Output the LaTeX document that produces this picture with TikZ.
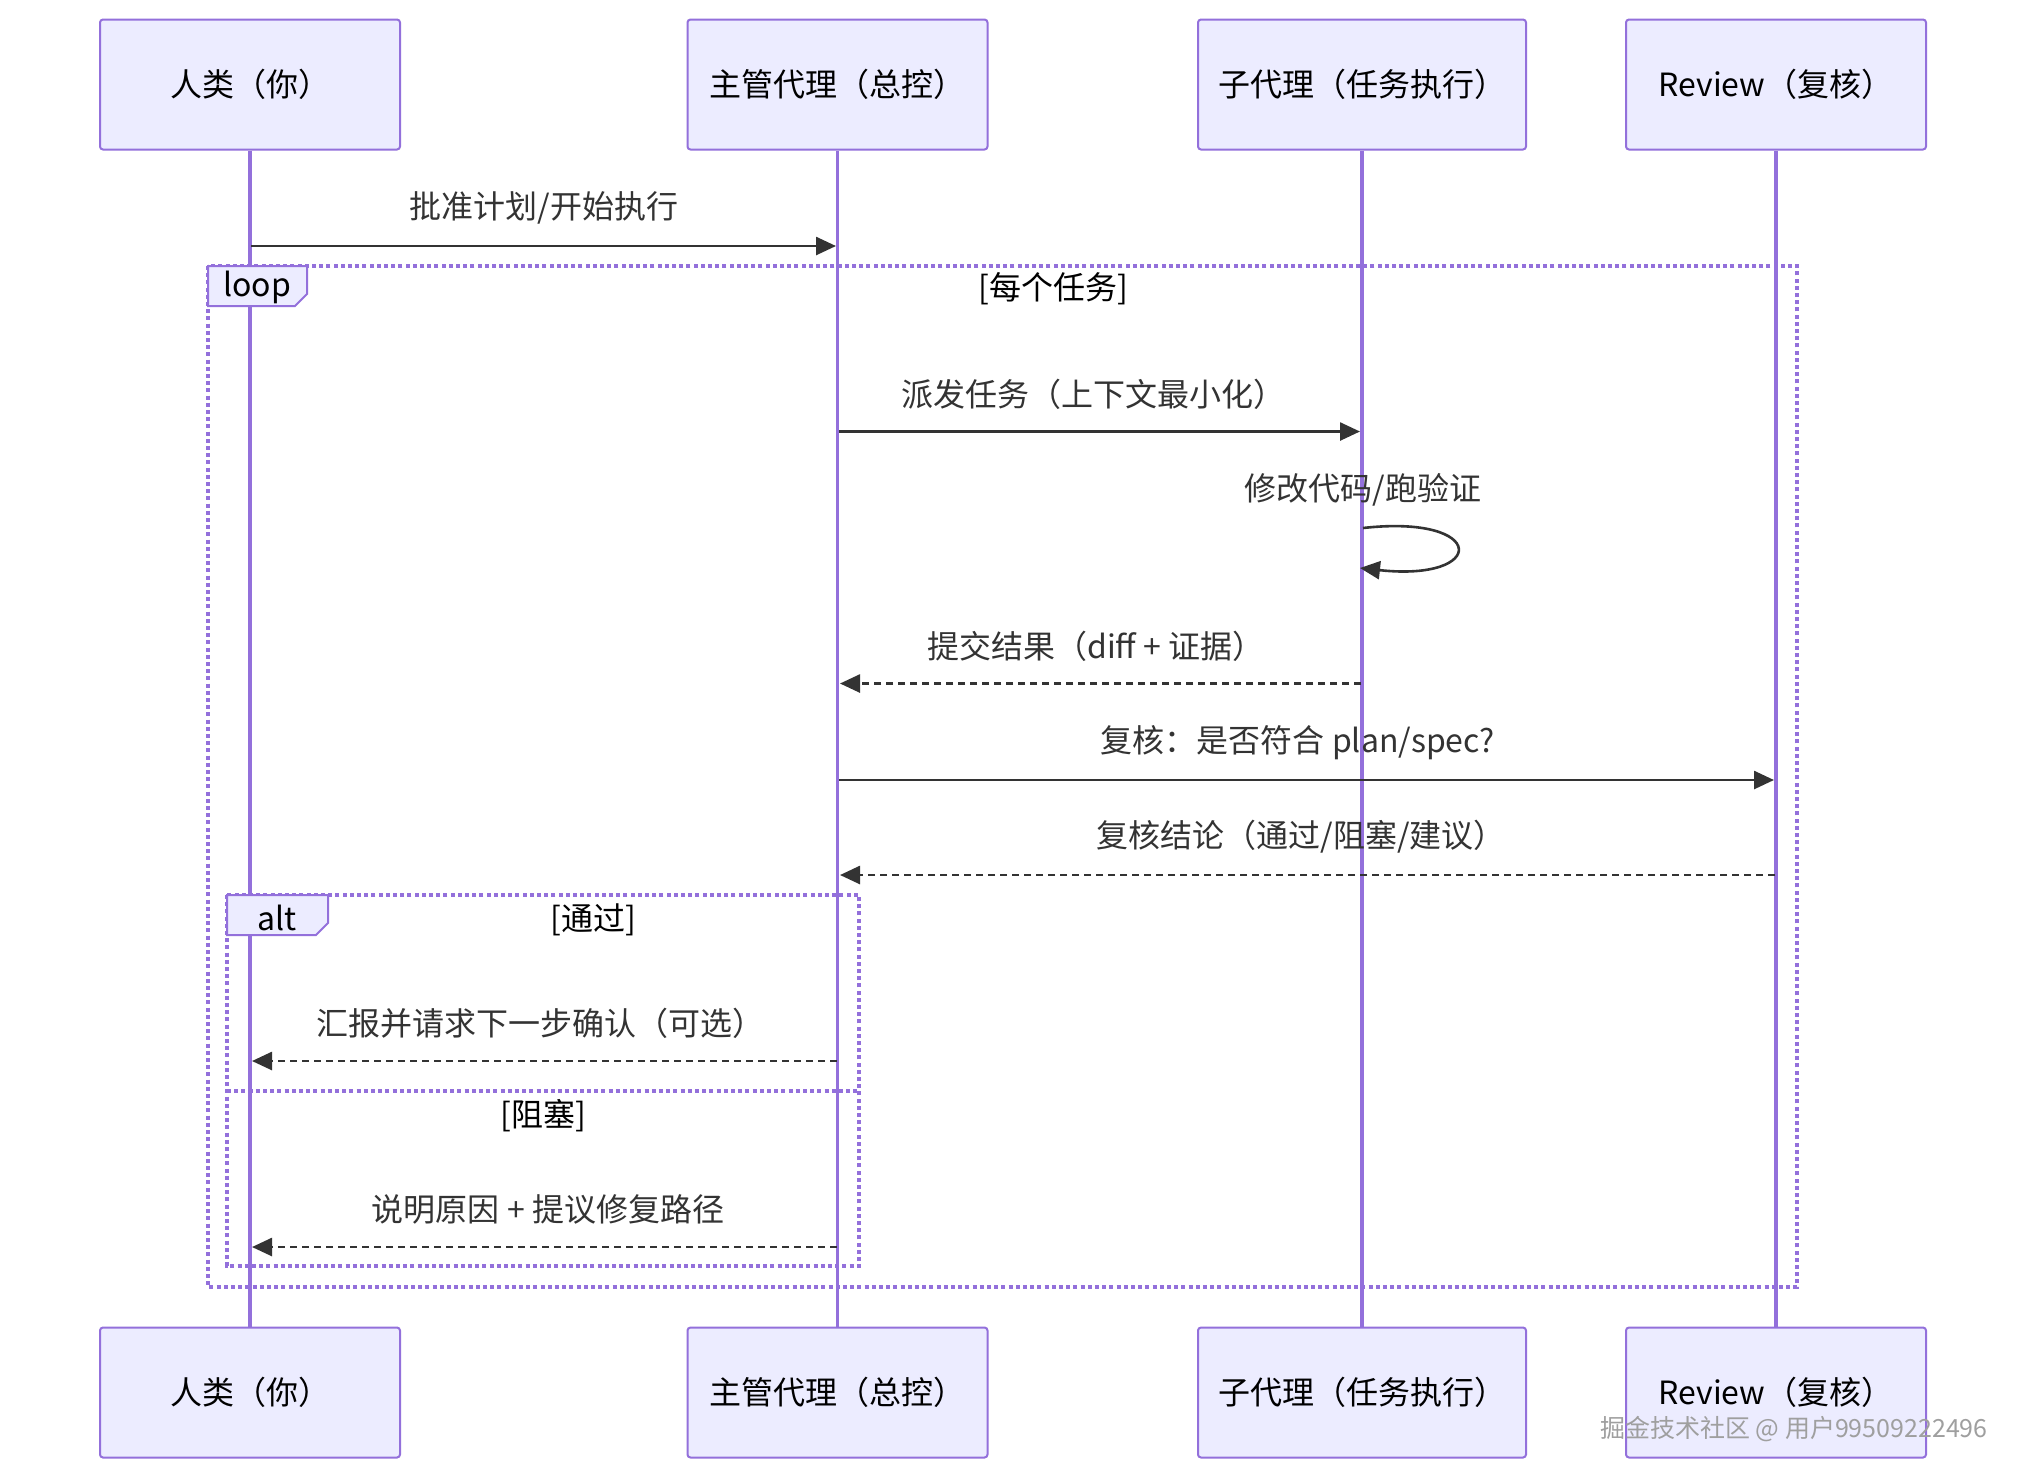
\documentclass[tikz,border=0pt]{standalone}
\usepackage{fontspec}
\setmainfont{Noto Sans CJK SC}
\usetikzlibrary{arrows.meta}
\definecolor{boxfill}{HTML}{ECECFF}
\definecolor{boxline}{HTML}{9370DB}
\definecolor{ink}{HTML}{333333}
\begin{document}
\begin{tikzpicture}[x=0.5pt,y=-0.5pt,
  actor/.style={draw=boxline, fill=boxfill, line width=1pt, rounded corners=1.5pt,
    minimum width=150pt, minimum height=65pt, inner sep=0pt,
    font=\fontsize{16}{19}\selectfont, text=black},
  lifeline/.style={draw=boxline, line width=1.6pt},
  frame/.style={draw=boxline, line width=1.6pt, dash pattern=on 2pt off 1.6pt},
  tabbox/.style={draw=boxline, fill=boxfill, line width=1pt},
  tabtext/.style={font=\fontsize{16}{19}\selectfont, text=black, inner sep=0pt},
  condtext/.style={font=\fontsize{16}{19}\selectfont, text=black, inner sep=0pt},
  msgtext/.style={font=\fontsize{16}{19}\selectfont, text=ink, inner sep=0pt},
  msg/.style={draw=ink, line width=1.3pt, -{Triangle[length=10pt,width=9pt]}},
  reply/.style={msg, dash pattern=on 3.5pt off 2.5pt},
]
\fill[white] (0,0) rectangle (2026,1480);
\useasboundingbox (0,0) rectangle (2026,1480);

% actors (top)
\node[actor] (hT) at (250,84.5) {人类（你）};
\node[actor] (mT) at (837.5,84.5) {主管代理（总控）};
\node[actor, minimum width=164pt] (sT) at (1362,84.5) {子代理（任务执行）};
\node[actor] (rT) at (1776,84.5) {Review（复核）};
% bottom actor positions
\path (250,1392.5) coordinate (hBc) (837.5,1392.5) coordinate (mBc)
      (1362,1392.5) coordinate (sBc) (1776,1392.5) coordinate (rBc);

% lifelines
\coordinate (hL) at (250,1328);
\coordinate (mL) at (837.5,1328);
\coordinate (sL) at (1362,1328);
\coordinate (rL) at (1776,1328);
\draw[lifeline] (hT.south) -- (hL);
\draw[lifeline] (mT.south) -- (mL);
\draw[lifeline] (sT.south) -- (sL);
\draw[lifeline] (rT.south) -- (rL);

% loop frame
\draw[frame] (208,266) rectangle (1797,1287);
% alt frame
\draw[frame] (227,895) rectangle (859,1266);
\draw[frame] (227,1091) -- (859,1091);

% tabs
\draw[tabbox] (208,266) -- (307,266) -- (307,294) -- (295,306) -- (208,306) -- cycle;
\node[tabtext] (loopT) at (257,287) {loop};
\node[condtext] (loopC) at (1053,289) {[每个任务]};
\draw[tabbox] (227,895) -- (328,895) -- (328,923) -- (316,935) -- (227,935) -- cycle;
\node[tabtext] (altT) at (277,918) {alt};
\node[condtext] (altC1) at (593,920) {[通过]};
\node[condtext] (altC2) at (543,1116) {[阻塞]};

% message endpoints
\coordinate (h1) at (251,246);   \coordinate (m1) at (836,246);
\coordinate (m2) at (839,431.5); \coordinate (s2) at (1360,431.5);
\coordinate (s3a) at (1363,528); \coordinate (s3b) at (1360,568);
\coordinate (s4) at (1361,683.5); \coordinate (m4) at (840,683.5);
\coordinate (m5) at (839,780);   \coordinate (r5) at (1774,780);
\coordinate (r6) at (1775,875);  \coordinate (m6) at (840,875);
\coordinate (m7) at (836.5,1061); \coordinate (h7) at (252,1061);
\coordinate (m8) at (836.5,1247); \coordinate (h8) at (252,1247);

% messages
\node[msgtext] (t1) at (544,208) {批准计划/开始执行};
\draw[msg] (h1) -- (m1);
\node[msgtext] (t2) at (1093,394) {派发任务（上下文最小化）};
\draw[msg] (m2) -- (s2);
\node[msgtext] (t3) at (1363,490) {修改代码/跑验证};
\draw[msg] (s3a) .. controls (1488,514) and (1488,582) .. (s3b);
\node[msgtext] (t4) at (1096,646) {提交结果（diff + 证据）};
\draw[reply] (s4) -- (m4);
\node[msgtext] (t5) at (1298,743) {复核：是否符合 plan/spec?};
\draw[msg] (m5) -- (r5);
\node[msgtext] (t6) at (1301,837) {复核结论（通过/阻塞/建议）};
\draw[reply] (r6) -- (m6);
\node[msgtext] (t7) at (540,1023) {汇报并请求下一步确认（可选）};
\draw[reply] (m7) -- (h7);
\node[msgtext] (t8) at (548,1209) {说明原因 + 提议修复路径};
\draw[reply] (m8) -- (h8);

% actors (bottom)
\node[actor] (hB) at (hBc) {人类（你）};
\node[actor] (mB) at (mBc) {主管代理（总控）};
\node[actor, minimum width=164pt] (sB) at (sBc) {子代理（任务执行）};
\node[actor] (rB) at (rBc) {Review（复核）};

% watermark
\node[font=\fontsize{12.5}{14}\selectfont, text=gray!75, inner sep=0pt] (wm) at (1794,1429) {掘金技术社区 @ 用户99509222496};
\end{tikzpicture}
\end{document}
